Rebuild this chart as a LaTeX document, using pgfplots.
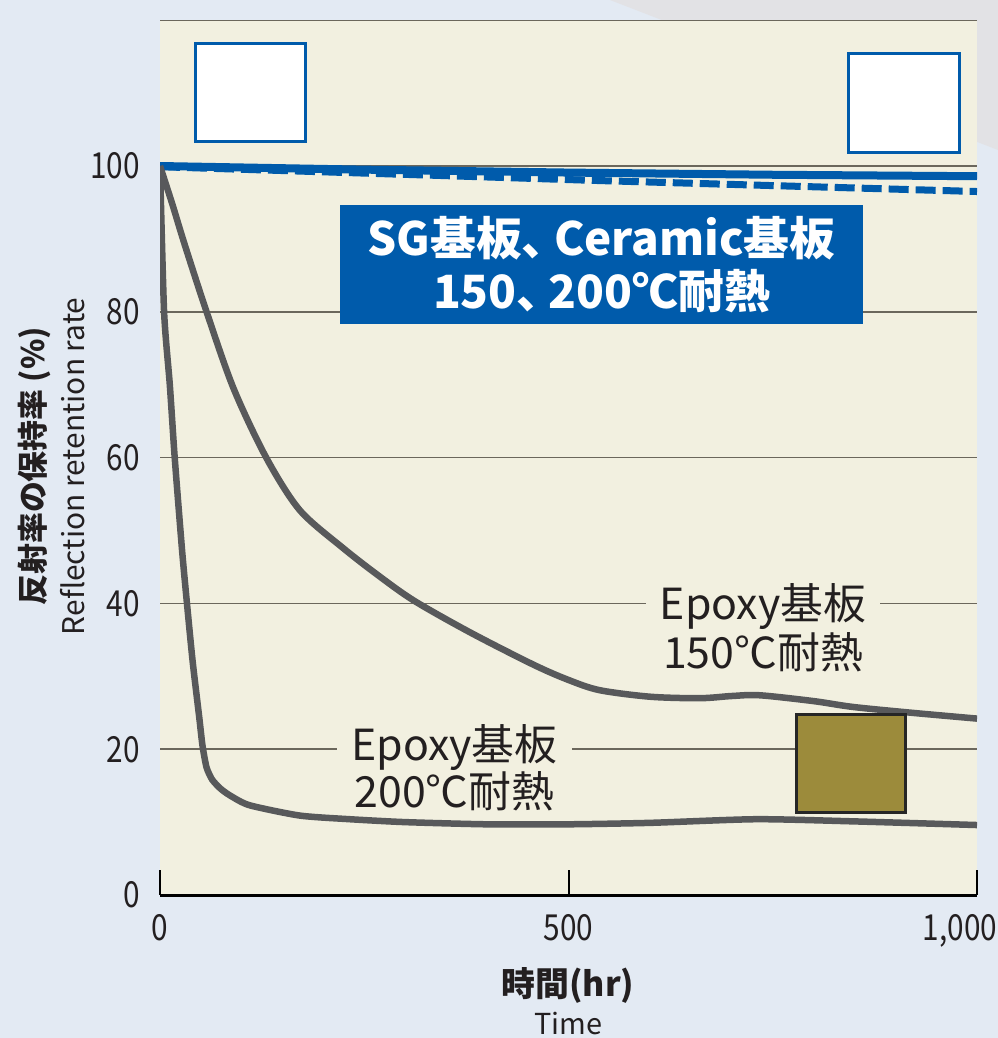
\documentclass[border=0pt]{standalone}
\usepackage{fontspec}
\setmainfont{Noto Sans CJK JP}
\usepackage{graphicx}
\usepackage{pgfplots}
\usepackage{pgfplotstable}
\pgfplotsset{compat=1.18}

\definecolor{bgblue}{HTML}{E3EAF3}
\definecolor{bggray}{HTML}{E2E2E5}
\definecolor{cream}{HTML}{F2F0E0}
\definecolor{sgblue}{HTML}{005BAB}
\definecolor{curvegray}{HTML}{58595B}
\definecolor{gridcol}{HTML}{6B675C}
\definecolor{txt}{HTML}{231F20}
\definecolor{olive}{HTML}{9C8B3B}

\newcommand{\cond}[1]{\scalebox{0.83}[1]{#1}}

% SG / Ceramic, 150 and 200 C
\pgfplotstableread{
x y
0 100
250 99.5
500 99.1
750 98.8
1000 98.6
}\sgsolid
\pgfplotstableread{
x y
0 99.9
343 98.7
538 98.0
1000 96.5
}\sgdash
% Epoxy 150 C
\pgfplotstableread{
x y
0 100
15 94.8
30 89.3
57 80
90 69.5
130 60
171 52.8
224 47.6
270 43.6
312 40.3
380 36.0
457 31.6
500 29.5
538 28.1
600 27.2
661 27.0
700 27.3
734 27.4
800 26.6
848 25.8
920 25.0
1000 24.2
}\epoxyA
% Epoxy 200 C
\pgfplotstableread{
x y
0 100
5 80
12 70
18 60
27 47.3
33 40
40 32
48 24.4
52 20.5
57 17.5
64 15.8
75 14.5
88 13.5
110 12.3
171 10.9
232 10.4
300 10.0
400 9.7
500 9.7
600 9.9
730 10.4
850 10.1
1000 9.6
}\epoxyB

\begin{document}
\begin{tikzpicture}[x=1bp,y=1bp]
\clip (0,0) rectangle (998,-1038);
\fill[bgblue] (0,0) rectangle (998,-1038);
\fill[bggray] (610,0) -- (998,0) -- (998,-150) -- cycle;
\begin{axis}[
  at={(160bp,-895bp)}, anchor=south west,
  scale only axis, width=817bp, height=874.8bp,
  xmin=0, xmax=1000, ymin=0, ymax=120,
  axis background/.style={fill=cream},
  axis x line*=bottom, axis y line*=left,
  x axis line style={black, line width=3bp},
  y axis line style={draw=none},
  xtick={0,500,1000},
  xticklabels={\cond{0},\cond{500},{\hspace*{-34bp}\cond{1,000}}},
  ytick={0,20,40,60,80,100},
  yticklabels={\cond{0},\cond{20},\cond{40},\cond{60},\cond{80},\cond{100}},
  tick align=inside, major tick length=25bp,
  xtick style={black, line width=2bp},
  ytick style={draw=none},
  ymajorgrids, major grid style={gridcol, line width=1.5bp},
  xticklabel style={font=\fontsize{36}{36}\selectfont, text=txt, anchor=north, inner sep=0pt, yshift=-19bp},
  yticklabel style={font=\fontsize{36}{36}\selectfont, text=txt, anchor=east, inner sep=0pt, xshift=-20bp},
  xlabel={{\bfseries\fontsize{34}{38}\selectfont 時間(hr)}\\Time},
  xlabel style={font=\fontsize{29}{38}\selectfont, text=txt, align=center, inner sep=0pt, at={(rel axis cs:0.4994,-0.1215)}, anchor=center},
  ylabel={{\bfseries\fontsize{31}{41}\selectfont 反射率の保持率 (\%)}\\Reflection retention rate},
  ylabel style={font=\fontsize{30}{41}\selectfont, text=txt, align=center, at={(rel axis cs:-0.1328,0.49)}, anchor=center},
]
\draw[gridcol, line width=2bp] (axis cs:0,120) -- (axis cs:1000,120);

\node[fill=cream, text=txt, font=\fontsize{43}{49}\selectfont, align=center, inner xsep=14bp, inner ysep=0pt] at (axis cs:738,36.7) {Epoxy基板\\150℃耐熱};
\node[fill=cream, text=txt, font=\fontsize{43}{46}\selectfont, align=center, inner xsep=14bp, inner ysep=0pt] at (axis cs:360.5,17.4) {Epoxy基板\\200℃耐熱};
\node[fill=sgblue, text=white, font=\bfseries\fontsize{46}{53}\selectfont, align=center, minimum width=522.5bp, minimum height=119bp, inner sep=0pt] at (axis cs:540.4,86.5) {SG基板、\kern-0.3em Ceramic基板\\150、\kern-0.3em 200℃耐熱};

\draw[sgblue, line width=3bp, fill=white] (axis cs:44,103.3) rectangle (axis cs:178.3,116.8);
\draw[sgblue, line width=3bp, fill=white] (axis cs:843.3,101.9) rectangle (axis cs:978,115.5);

\addplot[sgblue, line width=7bp, dash pattern=on 20bp off 7bp] table {\sgdash};
\addplot[sgblue, line width=8bp] table {\sgsolid};
\addplot[curvegray, line width=6.5bp, line join=round, smooth, tension=0.5] table {\epoxyA};
\addplot[curvegray, line width=6.5bp, line join=round, smooth, tension=0.4] table {\epoxyB};

\draw[black!85, line width=3bp, fill=olive] (axis cs:778.5,11.3) rectangle (axis cs:913,24.7);
\end{axis}
\end{tikzpicture}
\end{document}
